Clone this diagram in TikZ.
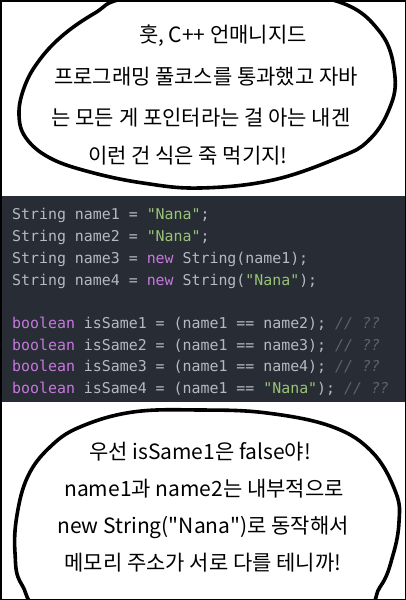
\documentclass[tikz,border=0pt]{standalone}
\usepackage{fontspec}
\newfontfamily\krfont{Noto Sans CJK KR}
\newfontfamily\codefont{DejaVu Sans Mono}
\usetikzlibrary{positioning}
\definecolor{codebg}{HTML}{282C34}
\definecolor{codetext}{HTML}{B4B9C3}
\definecolor{codekw}{HTML}{C678DD}
\definecolor{codestr}{HTML}{98C379}
\definecolor{codecom}{HTML}{5C6370}
\newcommand{\ckw}[1]{\textcolor{codekw}{#1}}
\newcommand{\cstr}[1]{\textcolor{codestr}{#1}}
\newcommand{\ccom}[1]{\textcolor{codecom}{\itshape #1}}

\begin{document}
\begin{tikzpicture}
    [
        x=1pt, y=-1pt,
        bubble/.style={draw=black, line width=3.6pt, fill=white, line join=round},
        speech/.style={inner sep=0pt, font=\krfont\fontsize{21}{25}\selectfont, text=black},
        codeline/.style={anchor=base west, inner sep=0pt, text=codetext, font=\codefont\fontsize{14.9}{17}\selectfont},
    ]
  \useasboundingbox (0,0) rectangle (406,600);
  \fill[white] (0,0) rectangle (406,600);

  \begin{scope}
    \clip (0,0) rectangle (406,600);
    % top bubble
    \draw[bubble] plot[smooth cycle, tension=0.65] coordinates {
      (127,-2) (230,-12) (333,0) (380,32) (395,77) (388,112) (368,141) (340,157)
      (273,180) (200,188) (143,183) (90,172) (50,158) (26,138) (19,115) (24,88)
      (38,62) (62,36) (95,13)};
    % bottom bubble
    \draw[bubble] plot[smooth cycle, tension=0.65] coordinates {
      (200,410) (267,413) (333,427) (373,453) (396,493) (399,522) (393,555)
      (380,587) (350,615) (200,632) (55,615) (22,585) (15,553) (17,515)
      (28,476) (50,447) (80,427) (133,412)};
  \end{scope}

  % code panel
  \fill[codebg] (0,196) rectangle (406,402);

  \node[speech] (top1) at (223,36) {훗, C++ 언매니지드};
  \node[speech] (top2) at (206,77) {프로그래밍 풀코스를 통과했고 자바};
  \node[speech] (top3) at (201,118) {는 모든 게 포인터라는 걸 아는 내겐};
  \node[speech] (top4) at (188,156) {이런 건 식은 죽 먹기지!};

  \node[codeline] (code1) at (12,219) {String name1 = \cstr{"Nana"};};
  \node[codeline] (code2) at (12,241) {String name2 = \cstr{"Nana"};};
  \node[codeline] (code3) at (12,263) {String name3 = \ckw{new} String(name1);};
  \node[codeline] (code4) at (12,285) {String name4 = \ckw{new} String(\cstr{"Nana"});};
  \node[codeline] (code5) at (12,328) {\ckw{boolean} isSame1 = (name1 == name2); \ccom{// ??}};
  \node[codeline] (code6) at (12,350) {\ckw{boolean} isSame2 = (name1 == name3); \ccom{// ??}};
  \node[codeline] (code7) at (12,371) {\ckw{boolean} isSame3 = (name1 == name4); \ccom{// ??}};
  \node[codeline] (code8) at (12,393) {\ckw{boolean} isSame4 = (name1 == \cstr{"Nana"}); \ccom{// ??}};

  \node[speech] (bot1) at (200,452) {우선 isSame1은 false야!};
  \node[speech] (bot2) at (204,489) {name1과 name2는 내부적으로};
  \node[speech] (bot3) at (203,527) {new String("Nana")로 동작해서};
  \node[speech] (bot4) at (203,563) {메모리 주소가 서로 다를 테니까!};

  % frame
  \draw[line width=1.5pt] (0.75,0.75) rectangle (405.25,599.25);
\end{tikzpicture}
\end{document}
